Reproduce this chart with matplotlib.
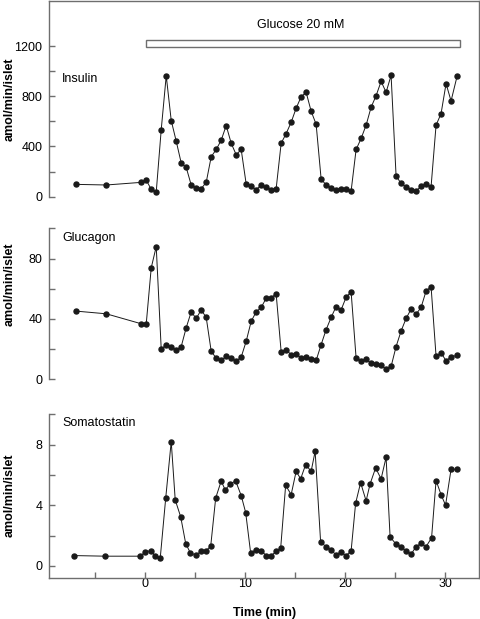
import matplotlib
matplotlib.use("Agg")
import matplotlib.pyplot as plt
from matplotlib.patches import Rectangle

plt.rcParams['font.family'] = ['Liberation Sans', 'DejaVu Sans']
plt.rcParams['font.size'] = 9

# sampling times (min)
t = [-6.95, -3.9, -0.4, 0.1, 0.6, 1.1, 1.6, 2.1, 2.6, 3.1, 3.6, 4.1, 4.6, 5.1,
     5.6, 6.1, 6.6, 7.1, 7.6, 8.1, 8.6, 9.1, 9.6, 10.1, 10.6, 11.1, 11.6, 12.1,
     12.6, 13.1, 13.6, 14.1, 14.6, 15.1, 15.6, 16.1, 16.6, 17.1, 17.6, 18.1,
     18.6, 19.1, 19.6, 20.1, 20.6, 21.1, 21.6, 22.1, 22.6, 23.1, 23.6, 24.1,
     24.6, 25.1, 25.6, 26.1, 26.6, 27.1, 27.6, 28.1, 28.6, 29.1, 29.6, 30.1,
     30.6, 31.2]
t_som = [-7.1, -4.0, -0.5, 0.0, 0.55, 1.0, 1.5, 2.05, 2.6, 3.0, 3.55, 4.05, 4.5,
         5.05, 5.55, 6.1, 6.55, 7.05, 7.6, 8.0, 8.5, 9.05, 9.6, 10.05, 10.55,
         11.1, 11.6, 12.1, 12.6, 13.1, 13.55, 14.05, 14.6, 15.1, 15.55, 16.05,
         16.6, 17.0, 17.55, 18.1, 18.6, 19.05, 19.6, 20.1, 20.6, 21.05, 21.55,
         22.1, 22.5, 23.05, 23.6, 24.1, 24.5, 25.05, 25.55, 26.05, 26.6, 27.1,
         27.6, 28.1, 28.65, 29.1, 29.6, 30.05, 30.6, 31.2]

insulin = [98, 93, 114, 132, 58, 37, 535, 964, 607, 442, 268, 233, 93, 72, 64,
           114, 318, 376, 450, 567, 426, 334, 376, 101, 85, 56, 93, 74, 56, 64,
           426, 503, 593, 705, 797, 832, 681, 577, 140, 93, 72, 56, 64, 58, 45,
           376, 464, 570, 713, 805, 919, 832, 967, 164, 106, 79, 56, 45, 82, 101,
           79, 570, 662, 901, 763, 959]
glucagon = [45.2, 43.4, 36.8, 36.8, 73.9, 87.9, 19.9, 23.0, 21.7, 19.3, 21.7,
            34.2, 44.7, 40.3, 46.0, 41.0, 18.6, 14.0, 12.5, 15.3, 14.0, 12.1,
            14.7, 25.2, 38.4, 44.7, 47.6, 53.7, 54.1, 56.6, 18.2, 19.7, 16.2,
            16.9, 14.0, 14.9, 13.4, 12.5, 23.0, 32.9, 41.0, 48.2, 46.0, 54.4,
            57.9, 14.0, 12.1, 13.4, 10.5, 9.9, 9.2, 6.8, 8.5, 21.7, 32.0, 40.3,
            46.5, 43.2, 47.6, 58.5, 61.4, 15.3, 17.5, 12.3, 14.9, 15.8]
somatostatin = [0.68, 0.64, 0.64, 0.92, 1.01, 0.66, 0.51, 4.48, 8.20, 4.35, 3.23,
                1.47, 0.88, 0.70, 0.95, 1.01, 1.30, 4.48, 5.60, 5.01, 5.41, 5.60,
                4.64, 3.52, 0.84, 1.08, 1.01, 0.68, 0.68, 0.95, 1.16, 5.32, 4.70,
                6.24, 5.74, 6.68, 6.24, 7.56, 1.56, 1.27, 1.05, 0.75, 0.90, 0.68,
                0.99, 4.13, 5.49, 4.29, 5.41, 6.46, 5.74, 7.16, 1.91, 1.47, 1.27,
                1.01, 0.77, 1.27, 1.49, 1.27, 1.85, 5.63, 4.70, 4.00, 6.37, 6.37]

spine_c = '#6e6e6e'
dot_c = '#1a1a1a'
xlim = (-9.6, 33.4)

fig = plt.figure(figsize=(4.8, 6.19), dpi=100)
L, W = 0.1027, 0.8953

# outer frame (top and right lines)
frame = fig.add_axes([L, 0.0667, W, 0.9984 - 0.0667])
frame.set_xticks([])
frame.set_yticks([])
frame.patch.set_visible(False)
for s in ['left', 'bottom']:
    frame.spines[s].set_visible(False)
for s in ['top', 'right']:
    frame.spines[s].set_color(spine_c)
    frame.spines[s].set_linewidth(1)

ax1 = fig.add_axes([L, 0.6823, W, 0.3161])
ax2 = fig.add_axes([L, 0.3872, W, 0.2439])
ax3 = fig.add_axes([L, 0.0667, W, 0.2640])

panels = [
    (ax1, t, insulin, (0, 1560), [0, 200, 400, 600, 800, 1000, 1200], [0, 400, 800, 1200], 'Insulin', 935, 0.50),
    (ax2, t, glucagon, (0, 100), [0, 20, 40, 60, 80, 100], [0, 40, 80], 'Glucagon', 93.4, 0.631),
    (ax3, t_som, somatostatin, (-0.78, 10), [0, 2, 4, 6, 8, 10], [0, 4, 8], 'Somatostatin', 9.45, 0.502),
]

for ax, tt, vals, ylim, yt, ylab, name, ny, lab_y in panels:
    ax.patch.set_visible(False)
    ax.plot(tt, vals, '-o', color=dot_c, lw=0.7, ms=3.6, mec=dot_c, clip_on=False)
    ax.set_xlim(*xlim)
    ax.set_ylim(*ylim)
    ax.set_yticks(yt)
    ax.set_yticklabels([str(v) if v in ylab else '' for v in yt])
    for s in ['top', 'right', 'bottom']:
        ax.spines[s].set_visible(False)
    ax.spines['left'].set_color(spine_c)
    ax.spines['left'].set_linewidth(1)
    ax.tick_params(axis='y', direction='in', length=4.5, width=1, color=spine_c, pad=5)
    ax.text(-8.3, ny, name, ha='left', va='center')
    ax.set_ylabel('amol/min/islet', fontweight='bold', va='center', ha='center')
    ax.yaxis.set_label_coords(-0.0915, lab_y)

ax1.set_xticks([])
ax2.set_xticks([])

ax3.spines['bottom'].set_visible(True)
ax3.spines['bottom'].set_color(spine_c)
ax3.spines['bottom'].set_linewidth(1)
ax3.set_xticks([-5, 0, 5, 10, 15, 20, 25, 30])
ax3.set_xticklabels(['', '0', '', '10', '', '20', '', '30'])
ax3.tick_params(axis='x', direction='in', length=4.5, width=1, color=spine_c, pad=0.5)
ax3.set_xlabel('Time (min)', fontweight='bold', labelpad=12)

# glucose bar
ax1.add_patch(Rectangle((0.1, 1195), 31.35, 55, facecolor='white',
                        edgecolor=spine_c, lw=1))
ax1.text(15.6, 1365, 'Glucose 20 mM', ha='center', va='center')

fig.savefig('out.png', dpi=100)
